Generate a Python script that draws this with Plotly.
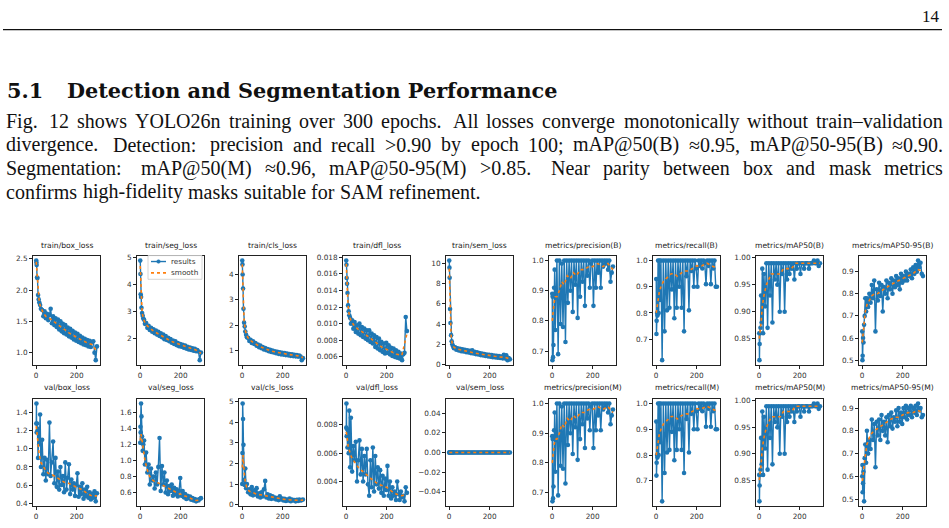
import plotly.graph_objects as go

W, H = 949, 528

# ---------------- data ----------------
EPOCHS = [1, 2, 3, 5, 7, 10, 13, 16,
          20, 24, 30, 36, 42, 48, 54, 60,
          66, 72, 78, 84, 90, 96, 102, 108,
          114, 120, 126, 132, 138, 144, 150, 156,
          162, 168, 174, 180, 186, 192, 198, 204,
          210, 216, 222, 228, 234, 240, 246, 252,
          258, 264, 270, 276, 282, 288, 294, 300]
SMOOTH_EPOCHS = [1, 5, 10, 16, 24, 36, 48, 60, 75, 90, 105, 120, 140, 160, 180, 200, 225, 250, 275, 300]

TITLES = ["train/box_loss", "train/seg_loss", "train/cls_loss", "train/dfl_loss", "train/sem_loss",
          "metrics/precision(B)", "metrics/recall(B)", "metrics/mAP50(B)", "metrics/mAP50-95(B)",
          "val/box_loss", "val/seg_loss", "val/cls_loss", "val/dfl_loss", "val/sem_loss",
          "metrics/precision(M)", "metrics/recall(M)", "metrics/mAP50(M)", "metrics/mAP50-95(M)"]

TRAIN_BOX = [2.47, 2.44, 2.40, 2.20, 2.19, 1.92, 1.85, 1.80,
             1.76, 1.70, 1.68, 1.58, 1.66, 1.55, 1.62, 1.52,
             1.60, 1.70, 1.47, 1.58, 1.44, 1.55, 1.41, 1.53,
             1.37, 1.50, 1.34, 1.46, 1.31, 1.44, 1.29, 1.40,
             1.26, 1.38, 1.24, 1.35, 1.21, 1.32, 1.19, 1.30,
             1.17, 1.27, 1.15, 1.24, 1.13, 1.22, 1.12, 1.20,
             1.10, 1.19, 1.09, 1.17, 1.18, 1.00, 0.88, 1.10]
TRAIN_BOX_SMOOTH = [2.45, 2.25, 1.95, 1.80, 1.72, 1.63, 1.58, 1.56, 1.53, 1.49,
                    1.45, 1.42, 1.37, 1.32, 1.28, 1.24, 1.20, 1.16, 1.13, 1.02]

TRAIN_SEG = [4.90, 4.40, 3.65, 3.55, 3.15, 2.95, 2.85, 2.75,
             2.70, 2.55, 2.58, 2.40, 2.48, 2.32, 2.40, 2.26,
             2.35, 2.20, 2.30, 2.15, 2.25, 2.10, 2.20, 2.05,
             2.15, 1.98, 2.10, 1.95, 2.03, 1.90, 1.98, 1.85,
             1.93, 1.80, 1.90, 1.76, 1.84, 1.72, 1.80, 1.70,
             1.77, 1.66, 1.74, 1.63, 1.70, 1.60, 1.67, 1.58,
             1.64, 1.55, 1.62, 1.53, 1.58, 1.52, 1.20, 1.48]
TRAIN_SEG_SMOOTH = [4.70, 3.80, 3.00, 2.75, 2.60, 2.47, 2.38, 2.32, 2.24, 2.17,
                    2.10, 2.04, 1.96, 1.88, 1.82, 1.76, 1.70, 1.64, 1.58, 1.45]

TRAIN_CLS = [4.55, 4.40, 4.00, 3.45, 2.65, 2.10, 1.95, 1.75,
             1.62, 1.52, 1.50, 1.38, 1.42, 1.30, 1.36, 1.26,
             1.30, 1.19, 1.24, 1.13, 1.20, 1.09, 1.14, 1.04,
             1.10, 1.01, 1.06, 0.97, 1.03, 0.94, 1.00, 0.92,
             0.97, 0.89, 0.95, 0.87, 0.93, 0.85, 0.91, 0.84,
             0.90, 0.82, 0.88, 0.81, 0.86, 0.79, 0.85, 0.78,
             0.83, 0.77, 0.82, 0.76, 0.80, 0.76, 0.62, 0.70]
TRAIN_CLS_SMOOTH = [4.40, 3.30, 2.20, 1.80, 1.58, 1.42, 1.35, 1.30, 1.22, 1.15,
                    1.10, 1.05, 0.99, 0.95, 0.91, 0.88, 0.85, 0.82, 0.79, 0.72]

TRAIN_DFL = [0.0176, 0.0171, 0.0155, 0.0148, 0.0137, 0.0122, 0.0115, 0.0110,
             0.0107, 0.0100, 0.0104, 0.0094, 0.0102, 0.0090, 0.0098, 0.0088,
             0.0100, 0.0086, 0.0096, 0.0084, 0.0094, 0.0082, 0.0092, 0.0080,
             0.0092, 0.0078, 0.0088, 0.0076, 0.0086, 0.0072, 0.0084, 0.0070,
             0.0082, 0.0068, 0.0078, 0.0066, 0.0076, 0.0064, 0.0077, 0.0065,
             0.0074, 0.0063, 0.0071, 0.0061, 0.0070, 0.0060, 0.0068, 0.0059,
             0.0066, 0.0058, 0.0064, 0.0056, 0.0063, 0.0065, 0.0108, 0.0091]
TRAIN_DFL_SMOOTH = [0.0172, 0.0148, 0.0122, 0.0110, 0.0104, 0.0099, 0.0096, 0.0093, 0.0091, 0.0088,
                    0.0085, 0.0082, 0.0078, 0.0074, 0.0071, 0.0069, 0.0066, 0.0063, 0.0062, 0.0088]

TRAIN_SEM = [10.3, 9.6, 8.6, 5.5, 4.1, 2.9, 2.3, 2.0,
             1.80, 1.60, 1.70, 1.45, 1.60, 1.38, 1.55, 1.30,
             1.50, 1.28, 1.45, 1.22, 1.40, 1.18, 1.35, 1.12,
             1.40, 1.08, 1.25, 1.02, 1.20, 0.98, 1.12, 0.92,
             1.08, 0.88, 1.02, 0.84, 0.98, 0.80, 0.95, 0.76,
             0.92, 0.72, 0.88, 0.70, 0.85, 0.66, 0.82, 0.64,
             0.78, 0.60, 0.95, 0.58, 0.90, 0.42, 0.62, 0.50]
TRAIN_SEM_SMOOTH = [9.5, 5.5, 2.9, 2.0, 1.70, 1.55, 1.48, 1.42, 1.35, 1.28,
                    1.22, 1.15, 1.07, 1.00, 0.94, 0.87, 0.80, 0.74, 0.70, 0.55]

PRECISION_B = [0.89, 0.67, 0.88, 0.68, 0.72, 0.91, 0.97, 0.77,
               0.89, 1.00, 0.69, 1.00, 0.79, 0.99, 0.78, 1.00,
               0.73, 1.00, 0.86, 1.00, 0.90, 1.00, 0.83, 1.00,
               0.92, 1.00, 0.81, 1.00, 0.88, 1.00, 0.93, 1.00,
               0.85, 1.00, 0.95, 1.00, 0.91, 0.99, 1.00, 0.85,
               1.00, 0.91, 1.00, 0.96, 1.00, 0.91, 1.00, 0.98,
               1.00, 0.99, 1.00, 0.97, 1.00, 0.93, 0.96, 0.98]
PRECISION_B_SMOOTH = [0.80, 0.84, 0.86, 0.88, 0.88, 0.90, 0.93, 0.92, 0.95, 0.94,
                      0.96, 0.95, 0.97, 0.97, 0.98, 0.98, 0.99, 0.98, 0.99, 0.97]

RECALL_B = [0.93, 0.72, 0.77, 0.80, 0.79, 1.00, 0.80, 1.00,
            0.85, 1.00, 0.62, 1.00, 0.73, 1.00, 0.81, 1.00,
            0.82, 1.00, 0.89, 1.00, 0.78, 1.00, 0.82, 1.00,
            0.90, 1.00, 0.82, 1.00, 0.73, 1.00, 0.94, 1.00,
            0.81, 1.00, 0.96, 1.00, 0.90, 1.00, 0.97, 0.90,
            1.00, 0.98, 1.00, 0.97, 1.00, 0.99, 0.91, 1.00,
            0.98, 1.00, 0.91, 1.00, 0.97, 1.00, 0.90, 0.90]
RECALL_B_SMOOTH = [0.80, 0.82, 0.85, 0.88, 0.90, 0.92, 0.93, 0.94, 0.95, 0.95,
                   0.94, 0.95, 0.96, 0.96, 0.97, 0.98, 0.98, 0.99, 0.98, 0.97]

MAP50_B = [0.86, 0.81, 0.84, 0.86, 0.87, 0.93, 0.88, 0.98,
           0.86, 0.97, 0.91, 0.99, 0.87, 0.99, 0.93, 0.99,
           0.88, 0.99, 0.96, 0.99, 0.95, 0.99, 0.90, 0.99,
           0.97, 0.99, 0.90, 0.99, 0.96, 0.99, 0.97, 0.99,
           0.98, 0.99, 0.96, 0.99, 0.98, 0.99, 0.99, 0.97,
           0.99, 0.99, 0.98, 0.99, 0.99, 0.99, 0.98, 0.99,
           0.99, 0.99, 0.995, 0.99, 0.99, 0.995, 0.985, 0.99]
MAP50_B_SMOOTH = [0.85, 0.86, 0.88, 0.91, 0.93, 0.95, 0.96, 0.97, 0.97, 0.97,
                  0.97, 0.98, 0.98, 0.98, 0.99, 0.99, 0.99, 0.99, 0.99, 0.99]

MAP5095_B = [0.63, 0.50, 0.52, 0.60, 0.58, 0.66, 0.70, 0.78,
             0.72, 0.78, 0.74, 0.80, 0.76, 0.84, 0.78, 0.86,
             0.63, 0.82, 0.77, 0.85, 0.79, 0.84, 0.72, 0.83,
             0.80, 0.86, 0.78, 0.85, 0.82, 0.87, 0.80, 0.86,
             0.83, 0.88, 0.84, 0.87, 0.82, 0.89, 0.85, 0.88,
             0.86, 0.90, 0.86, 0.89, 0.88, 0.91, 0.87, 0.92,
             0.89, 0.93, 0.90, 0.95, 0.92, 0.94, 0.89, 0.88]
MAP5095_B_SMOOTH = [0.58, 0.62, 0.67, 0.72, 0.75, 0.77, 0.79, 0.80, 0.80, 0.81,
                    0.82, 0.83, 0.84, 0.85, 0.86, 0.87, 0.88, 0.89, 0.91, 0.90]

VAL_BOX = [1.28, 1.50, 1.18, 1.28, 1.20, 0.90, 1.22, 1.05,
           1.38, 0.80, 1.10, 0.72, 0.90, 0.65, 0.88, 0.72,
           1.29, 0.70, 0.85, 1.08, 0.62, 0.90, 0.58, 0.75,
           0.55, 0.80, 0.60, 0.70, 0.52, 0.85, 0.55, 0.68,
           0.83, 0.50, 0.66, 0.55, 0.62, 0.48, 0.60, 0.73,
           0.47, 0.58, 0.50, 0.62, 0.45, 0.55, 0.48, 0.58,
           0.46, 0.52, 0.44, 0.50, 0.46, 0.53, 0.42, 0.51]
VAL_BOX_SMOOTH = [1.25, 1.15, 1.00, 0.93, 0.85, 0.80, 0.76, 0.73, 0.72, 0.70,
                  0.68, 0.66, 0.63, 0.62, 0.60, 0.58, 0.55, 0.51, 0.48, 0.48]

VAL_SEG = [1.22, 1.42, 1.35, 1.71, 1.55, 1.30, 1.12, 1.20,
           1.25, 0.95, 1.10, 0.85, 0.95, 0.70, 0.90, 0.75,
           0.80, 0.65, 0.85, 0.70, 0.92, 1.28, 0.62, 0.93,
           0.70, 0.85, 0.60, 0.75, 0.58, 0.68, 0.62, 0.70,
           0.56, 0.66, 0.58, 0.64, 0.55, 0.62, 0.78, 0.56,
           0.62, 0.54, 0.58, 0.52, 0.56, 0.53, 0.55, 0.51,
           0.53, 0.50, 0.52, 0.49, 0.51, 0.50, 0.52, 0.53]
VAL_SEG_SMOOTH = [1.25, 1.33, 1.25, 1.12, 1.00, 0.88, 0.80, 0.76, 0.73, 0.72,
                  0.70, 0.68, 0.65, 0.62, 0.60, 0.58, 0.55, 0.52, 0.50, 0.51]

VAL_CLS = [1.00, 2.50, 4.90, 4.15, 2.90, 1.20, 0.95, 1.75,
           0.80, 1.00, 0.60, 0.75, 0.50, 0.85, 0.45, 0.70,
           0.50, 0.80, 0.40, 0.55, 0.35, 0.60, 0.40, 0.75,
           1.15, 0.35, 0.50, 0.30, 0.45, 0.28, 0.40, 0.30,
           0.35, 0.25, 0.32, 0.22, 0.40, 0.25, 0.30, 0.20,
           0.28, 0.18, 0.25, 0.20, 0.30, 0.17, 0.25, 0.20,
           0.22, 0.16, 0.24, 0.18, 0.25, 0.20, 0.22, 0.25]
VAL_CLS_SMOOTH = [1.80, 2.40, 1.60, 1.10, 0.80, 0.65, 0.60, 0.55, 0.50, 0.48,
                  0.45, 0.42, 0.38, 0.33, 0.30, 0.27, 0.24, 0.22, 0.21, 0.22]

VAL_DFL = [0.0078, 0.0095, 0.0072, 0.0077, 0.0064, 0.0075, 0.0060, 0.0090,
           0.0050, 0.0085, 0.0047, 0.0065, 0.0055, 0.0068, 0.0040, 0.0055,
           0.0069, 0.0045, 0.0063, 0.0040, 0.0058, 0.0045, 0.0063, 0.0038,
           0.0030, 0.0055, 0.0036, 0.0064, 0.0033, 0.0058, 0.0038, 0.0050,
           0.0035, 0.0048, 0.0032, 0.0044, 0.0030, 0.0042, 0.0034, 0.0051,
           0.0030, 0.0040, 0.0028, 0.0036, 0.0030, 0.0033, 0.0027, 0.0040,
           0.0031, 0.0027, 0.0033, 0.0029, 0.0030, 0.0026, 0.0036, 0.0032]
VAL_DFL_SMOOTH = [0.0075, 0.0072, 0.0065, 0.0062, 0.0058, 0.0055, 0.0052, 0.0050, 0.0048, 0.0046,
                  0.0044, 0.0042, 0.0040, 0.0038, 0.0037, 0.0036, 0.0033, 0.0031, 0.0030, 0.0031]

VAL_SEM = [0.0, 0.0, 0.0, 0.0, 0.0, 0.0, 0.0, 0.0,
           0.0, 0.0, 0.0, 0.0, 0.0, 0.0, 0.0, 0.0,
           0.0, 0.0, 0.0, 0.0, 0.0, 0.0, 0.0, 0.0,
           0.0, 0.0, 0.0, 0.0, 0.0, 0.0, 0.0, 0.0,
           0.0, 0.0, 0.0, 0.0, 0.0, 0.0, 0.0, 0.0,
           0.0, 0.0, 0.0, 0.0, 0.0, 0.0, 0.0, 0.0,
           0.0, 0.0, 0.0, 0.0, 0.0, 0.0, 0.0, 0.0]
VAL_SEM_SMOOTH = [0.0, 0.0, 0.0, 0.0, 0.0, 0.0, 0.0, 0.0, 0.0, 0.0,
                  0.0, 0.0, 0.0, 0.0, 0.0, 0.0, 0.0, 0.0, 0.0, 0.0]

PRECISION_M = [0.89, 0.67, 0.88, 0.68, 0.72, 0.91, 0.97, 0.77,
               0.89, 1.00, 0.69, 1.00, 0.79, 0.99, 0.78, 1.00,
               0.73, 1.00, 0.86, 1.00, 0.90, 1.00, 0.83, 1.00,
               0.92, 1.00, 0.81, 1.00, 0.88, 1.00, 0.93, 1.00,
               0.85, 1.00, 0.95, 1.00, 0.91, 0.99, 1.00, 0.85,
               1.00, 0.91, 1.00, 0.96, 1.00, 0.91, 1.00, 0.98,
               1.00, 0.99, 1.00, 0.97, 1.00, 0.93, 0.96, 0.98]
PRECISION_M_SMOOTH = [0.80, 0.84, 0.86, 0.88, 0.88, 0.90, 0.93, 0.92, 0.95, 0.94,
                      0.96, 0.95, 0.97, 0.97, 0.98, 0.98, 0.99, 0.98, 0.99, 0.97]

RECALL_M = [0.93, 0.72, 0.77, 0.80, 0.79, 1.00, 0.80, 1.00,
            0.85, 1.00, 0.62, 1.00, 0.73, 1.00, 0.81, 1.00,
            0.82, 1.00, 0.89, 1.00, 0.78, 1.00, 0.82, 1.00,
            0.90, 1.00, 0.82, 1.00, 0.73, 1.00, 0.94, 1.00,
            0.81, 1.00, 0.96, 1.00, 0.90, 1.00, 0.97, 0.90,
            1.00, 0.98, 1.00, 0.97, 1.00, 0.99, 0.91, 1.00,
            0.98, 1.00, 0.91, 1.00, 0.97, 1.00, 0.90, 0.90]
RECALL_M_SMOOTH = [0.80, 0.82, 0.85, 0.88, 0.90, 0.92, 0.93, 0.94, 0.95, 0.95,
                   0.94, 0.95, 0.96, 0.96, 0.97, 0.98, 0.98, 0.99, 0.98, 0.97]

MAP50_M = [0.86, 0.81, 0.84, 0.86, 0.87, 0.93, 0.88, 0.98,
           0.86, 0.97, 0.91, 0.99, 0.87, 0.99, 0.93, 0.99,
           0.88, 0.99, 0.96, 0.99, 0.95, 0.99, 0.90, 0.99,
           0.97, 0.99, 0.90, 0.99, 0.96, 0.99, 0.97, 0.99,
           0.98, 0.99, 0.96, 0.99, 0.98, 0.99, 0.99, 0.97,
           0.99, 0.99, 0.98, 0.99, 0.99, 0.99, 0.98, 0.99,
           0.99, 0.99, 0.995, 0.99, 0.99, 0.995, 0.985, 0.99]
MAP50_M_SMOOTH = [0.85, 0.86, 0.88, 0.91, 0.93, 0.95, 0.96, 0.97, 0.97, 0.97,
                  0.97, 0.98, 0.98, 0.98, 0.99, 0.99, 0.99, 0.99, 0.99, 0.99]

MAP5095_M = [0.60, 0.65, 0.53, 0.57, 0.62, 0.49, 0.68, 0.74,
             0.66, 0.80, 0.70, 0.76, 0.72, 0.85, 0.76, 0.83,
             0.64, 0.84, 0.78, 0.85, 0.76, 0.87, 0.80, 0.84,
             0.78, 0.86, 0.75, 0.87, 0.82, 0.88, 0.81, 0.86,
             0.84, 0.89, 0.82, 0.90, 0.84, 0.88, 0.83, 0.90,
             0.86, 0.91, 0.85, 0.90, 0.87, 0.91, 0.86, 0.90,
             0.88, 0.91, 0.87, 0.92, 0.89, 0.90, 0.86, 0.87]
MAP5095_M_SMOOTH = [0.58, 0.60, 0.65, 0.70, 0.74, 0.77, 0.79, 0.80, 0.81, 0.82,
                    0.83, 0.84, 0.85, 0.86, 0.86, 0.87, 0.88, 0.88, 0.89, 0.88]

# y tick labels per panel
YT_BOX = ["1.0", "1.5", "2.0", "2.5"]
YT_SEG = ["1", "2", "3", "4", "5"]
YT_CLS = ["1", "2", "3", "4"]
YT_DFL = ["0.006", "0.008", "0.010", "0.012", "0.014", "0.016", "0.018"]
YT_SEM = ["0", "2", "4", "6", "8", "10"]
YT_P = ["0.7", "0.8", "0.9", "1.0"]
YT_M50 = ["0.85", "0.90", "0.95", "1.00"]
YT_M95 = ["0.5", "0.6", "0.7", "0.8", "0.9"]
YT_VBOX = ["0.4", "0.6", "0.8", "1.0", "1.2", "1.4"]
YT_VSEG = ["0.6", "0.8", "1.0", "1.2", "1.4", "1.6"]
YT_VCLS = ["0", "1", "2", "3", "4", "5"]
YT_VDFL = ["0.004", "0.006", "0.008"]
YT_VSEM = ["\u22120.04", "\u22120.02", "0.00", "0.02", "0.04"]
XT = ["0", "200"]

RESULTS = [TRAIN_BOX, TRAIN_SEG, TRAIN_CLS, TRAIN_DFL, TRAIN_SEM,
           PRECISION_B, RECALL_B, MAP50_B, MAP5095_B,
           VAL_BOX, VAL_SEG, VAL_CLS, VAL_DFL, VAL_SEM,
           PRECISION_M, RECALL_M, MAP50_M, MAP5095_M]
SMOOTHS = [TRAIN_BOX_SMOOTH, TRAIN_SEG_SMOOTH, TRAIN_CLS_SMOOTH, TRAIN_DFL_SMOOTH, TRAIN_SEM_SMOOTH,
           PRECISION_B_SMOOTH, RECALL_B_SMOOTH, MAP50_B_SMOOTH, MAP5095_B_SMOOTH,
           VAL_BOX_SMOOTH, VAL_SEG_SMOOTH, VAL_CLS_SMOOTH, VAL_DFL_SMOOTH, VAL_SEM_SMOOTH,
           PRECISION_M_SMOOTH, RECALL_M_SMOOTH, MAP50_M_SMOOTH, MAP5095_M_SMOOTH]
YTICKS = [YT_BOX, YT_SEG, YT_CLS, YT_DFL, YT_SEM, YT_P, YT_P, YT_M50, YT_M95,
          YT_VBOX, YT_VSEG, YT_VCLS, YT_VDFL, YT_VSEM, YT_P, YT_P, YT_M50, YT_M95]

PAGE_NUMBER = "14"
HEADING_NUM = "5.1"
HEADING = "Detection and Segmentation Performance"
PARAGRAPH = [
    "Fig. 12 shows YOLO26n training over 300 epochs. All losses converge monotonically without train\u2013validation",
    "divergence. Detection: precision and recall >0.90 by epoch 100; mAP@50(B) \u22480.95, mAP@50-95(B) \u22480.90.",
    "Segmentation: mAP@50(M) \u22480.96, mAP@50-95(M) >0.85. Near parity between box and mask metrics",
    "confirms high-fidelity masks suitable for SAM refinement.",
]
JUSTIFY = [True, True, True, False]

# ---------------- layout helpers (pixel -> paper) ----------------
def px(x):
    return x / W

def py(y):
    return 1 - y / H

# Times / Liberation Serif advance widths (1/1000 em) used to justify text lines
TW = {' ': 250, '.': 250, ',': 250, ':': 278, ';': 278, '-': 333, '\u2013': 500, '>': 564,
      '(': 333, ')': 333, '@': 921, '\u2248': 549}
TW.update({d: 500 for d in "0123456789"})
TW.update(dict(zip("abcdefghijklmnopqrstuvwxyz",
                   [444, 500, 444, 500, 444, 333, 500, 500, 278, 278, 500, 278, 778,
                    500, 500, 500, 500, 333, 389, 278, 500, 500, 722, 500, 500, 444])))
TW.update(dict(zip("ABCDEFGHIJKLMNOPQRSTUVWXYZ",
                   [722, 667, 667, 722, 611, 556, 722, 722, 333, 389, 722, 611, 889,
                    722, 722, 556, 722, 667, 556, 611, 722, 722, 944, 722, 722, 611])))

def text_w(s, size):
    return sum(TW.get(ch, 500) for ch in s) * size / 1000.0

COL_LEFT = [33, 137, 239, 343, 446, 549, 653, 756, 859]
BOX_W = 67
ROW_TOP = [256, 401]
ROW_BOT = [367, 510]
TITLE_Y = [246, 390]

BLUE = "#1f77b4"
ORANGE = "#ff7f0e"
TICK_FONT = dict(family="DejaVu Sans", size=7.3, color="#333333")

fig = go.Figure()
layout = {}
annotations = []
shapes = []

for i, (res, sm, yt) in enumerate(zip(RESULTS, SMOOTHS, YTICKS)):
    n = i + 1
    r, c = divmod(i, 9)
    xname = "x" if n == 1 else f"x{n}"
    yname = "y" if n == 1 else f"y{n}"
    fig.add_trace(go.Scatter(
        x=EPOCHS, y=res, mode="lines+markers", name="results",
        line=dict(color=BLUE, width=1.4), marker=dict(color=BLUE, size=4.6),
        xaxis=xname, yaxis=yname, showlegend=False))
    fig.add_trace(go.Scatter(
        x=SMOOTH_EPOCHS, y=sm, mode="lines", name="smooth",
        line=dict(color=ORANGE, width=1.6, dash="dot"),
        xaxis=xname, yaxis=yname, showlegend=False))

    vals = list(res) + list(sm)
    lo, hi = min(vals), max(vals)
    pad = 0.05 * (hi - lo) if hi > lo else 0.055
    tickvals = [float(t.replace("\u2212", "-")) for t in yt]

    x0 = COL_LEFT[c]
    common = dict(ticks="outside", ticklen=3, tickwidth=0.8, tickcolor="#222",
                  showline=True, linecolor="#222", linewidth=0.9, mirror=True,
                  showgrid=False, zeroline=False, tickfont=TICK_FONT, fixedrange=True)
    layout["xaxis" if n == 1 else f"xaxis{n}"] = dict(
        domain=[px(x0), px(x0 + BOX_W)], anchor=yname, range=[-15, 315],
        tickvals=[0, 200], ticktext=XT, **common)
    layout["yaxis" if n == 1 else f"yaxis{n}"] = dict(
        domain=[py(ROW_BOT[r]), py(ROW_TOP[r])], anchor=xname, range=[lo - pad, hi + pad],
        tickvals=tickvals, ticktext=yt, **common)
    annotations.append(dict(
        x=px(x0 + BOX_W / 2), y=py(TITLE_Y[r]), xref="paper", yref="paper",
        text=TITLES[i], showarrow=False, xanchor="center", yanchor="middle",
        font=dict(family="DejaVu Sans", size=7.6, color="#222")))

# ---- legend drawn inside the train/seg_loss panel (matplotlib style) ----
LEG = dict(x0=148, x1=202, y0=256, y1=280)
shapes.append(dict(type="rect", xref="paper", yref="paper",
                   x0=px(LEG["x0"]), x1=px(LEG["x1"]), y0=py(LEG["y1"]), y1=py(LEG["y0"]),
                   line=dict(color="#cccccc", width=0.8), fillcolor="rgba(255,255,255,0.85)"))
shapes.append(dict(type="line", xref="paper", yref="paper", x0=px(151), x1=px(166),
                   y0=py(262), y1=py(262), line=dict(color=BLUE, width=1.4)))
shapes.append(dict(type="circle", xref="paper", yref="paper", x0=px(156.7), x1=px(160.3),
                   y0=py(263.8), y1=py(260.2), line=dict(color=BLUE, width=0.5), fillcolor=BLUE))
shapes.append(dict(type="line", xref="paper", yref="paper", x0=px(151), x1=px(166),
                   y0=py(273.5), y1=py(273.5), line=dict(color=ORANGE, width=1.6, dash="dot")))
for lbl, yy in (("results", 262), ("smooth", 273.5)):
    annotations.append(dict(x=px(170), y=py(yy), xref="paper", yref="paper", text=lbl,
                            showarrow=False, xanchor="left", yanchor="middle", borderpad=0,
                            font=dict(family="DejaVu Sans", size=7.3, color="#333")))

# ---- page text ----
SERIF = "Liberation Serif"
annotations.append(dict(x=px(942), y=py(14), xref="paper", yref="paper", text=PAGE_NUMBER,
                        showarrow=False, xanchor="right", yanchor="middle",
                        font=dict(family=SERIF, size=17, color="#111")))
HEAD_FONT = dict(family="DejaVu Serif", size=20.8, color="#111", weight=700)
annotations.append(dict(x=px(6), y=py(89), xref="paper", yref="paper", text=HEADING_NUM,
                        showarrow=False, xanchor="left", yanchor="middle", borderpad=0,
                        font=HEAD_FONT))
annotations.append(dict(x=px(66), y=py(89), xref="paper", yref="paper", text=HEADING,
                        showarrow=False, xanchor="left", yanchor="middle", borderpad=0,
                        font=HEAD_FONT))

BODY_SIZE = 20
LEFT, RIGHT = 5, 942
for k, (line, just) in enumerate(zip(PARAGRAPH, JUSTIFY)):
    words = line.split(" ")
    widths = [text_w(w_, BODY_SIZE) for w_ in words]
    # TeX-like stretch: larger gap after sentence-ending punctuation
    weights = [1.45 if w_[-1] in ".:" else 1.0 for w_ in words[:-1]]
    natural_gap = text_w(" ", BODY_SIZE) * 1.1
    if just:
        unit = (RIGHT - LEFT - sum(widths)) / sum(weights)
    else:
        unit = natural_gap
    xcur = LEFT
    ycen = 120 + 23.7 * k
    for j, w_ in enumerate(words):
        annotations.append(dict(x=px(xcur), y=py(ycen), xref="paper", yref="paper", text=w_,
                                showarrow=False, xanchor="left", yanchor="middle", borderpad=0,
                                font=dict(family=SERIF, size=BODY_SIZE, color="#111")))
        if j < len(weights):
            xcur += widths[j] + unit * weights[j]

shapes.append(dict(type="line", xref="paper", yref="paper", x0=px(3), x1=px(942),
                   y0=py(27), y1=py(27), line=dict(color="#111", width=1.3)))

fig.update_layout(
    width=W, height=H, autosize=False,
    margin=dict(l=0, r=0, t=0, b=0),
    paper_bgcolor="white", plot_bgcolor="white",
    annotations=annotations, shapes=shapes, showlegend=False,
    **layout,
)

fig.write_html("out.html")
